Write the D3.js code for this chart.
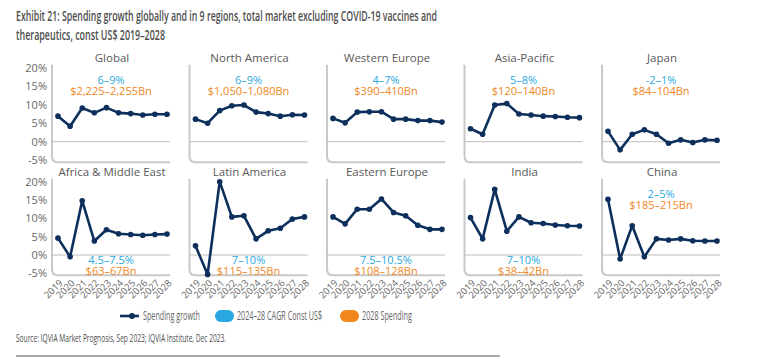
<!DOCTYPE html>
<html>
<head>
<meta charset="utf-8">
<script src="https://cdn.jsdelivr.net/npm/d3@7"></script>
<style>
  body { margin: 0; background: #fff; }
  text { font-family: "Open Sans", sans-serif; }
</style>
</head>
<body>
<div class="chart"></div>
<script>
// annees et regions
var years = [2019, 2020, 2021, 2022, 2023, 2024, 2025, 2026, 2027, 2028];
var regions = ["Global", "North America", "Western Europe", "Asia-Pacific", "Japan",
  "Africa & Middle East", "Latin America", "Eastern Europe", "India", "China"];

// croissance des depenses (%)
var growthGlobal = [6.9, 4.2, 9.1, 7.8, 9.2, 7.8, 7.6, 7.2, 7.4, 7.4];
var growthNorthAmerica = [6.1, 5.0, 8.4, 9.7, 9.9, 8.0, 7.6, 6.9, 7.3, 7.2];
var growthWesternEurope = [6.3, 5.1, 8.0, 8.1, 8.1, 6.1, 6.1, 5.7, 5.7, 5.3];
var growthAsiaPacific = [3.5, 2.0, 9.9, 10.3, 7.5, 7.2, 6.9, 6.8, 6.6, 6.5];
var growthJapan = [2.8, -2.2, 2.0, 3.2, 2.0, -0.4, 0.5, -0.2, 0.5, 0.4];
var growthAfricaME = [4.6, -0.5, 14.8, 3.8, 6.9, 5.8, 5.6, 5.4, 5.6, 5.7];
var growthLatinAmerica = [2.5, -5.3, 20.0, 10.4, 10.7, 4.4, 6.6, 7.3, 9.8, 10.4];
var growthEasternEurope = [10.4, 8.5, 12.5, 12.5, 15.3, 11.6, 10.7, 8.1, 7.0, 7.0];
var growthIndia = [10.2, 4.4, 17.9, 6.5, 10.4, 8.8, 8.6, 8.2, 8.0, 7.9];
var growthChina = [15.2, -1.1, 8.0, -0.5, 4.4, 4.1, 4.4, 3.9, 3.8, 3.8];

var growth = [growthGlobal, growthNorthAmerica, growthWesternEurope, growthAsiaPacific, growthJapan,
  growthAfricaME, growthLatinAmerica, growthEasternEurope, growthIndia, growthChina];

var cagrLabels = ["6–9%", "6–9%", "4–7%", "5–8%", "-2–1%",
  "4.5–7.5%", "7–10%", "7.5–10.5%", "7–10%", "2–5%"];
var spendLabels = ["$2,225–2,255Bn", "$1,050–1,080Bn", "$390–410Bn", "$120–140Bn", "$84–104Bn",
  "$63–67Bn", "$115–135Bn", "$108–128Bn", "$38–42Bn", "$185–215Bn"];

var yTicks = [20, 15, 10, 5, 0, -5];
var legendLabels = ["Spending growth", "2024–28 CAGR Const US$", "2028 Spending"];

var width = 770, height = 361;
var navy = "#0c2f5c", blue = "#29a8e0", orange = "#f0861c", frameGray = "#c9c9c9";

var svg = d3.select(".chart").append("svg")
  .attr("width", width)
  .attr("height", height);

// texte etroit : la police condensee n'existe pas, on serre avec textLength
function narrow(sel, len) {
  return sel.attr("textLength", len).attr("lengthAdjust", "spacingAndGlyphs");
}

// titre
narrow(svg.append("text")
  .attr("x", 16).attr("y", 21)
  .attr("font-size", 14).attr("font-weight", 600).attr("fill", "#4d4d4d")
  .text("Exhibit 21: Spending growth globally and in 9 regions, total market excluding COVID-19 vaccines and"), 421);
narrow(svg.append("text")
  .attr("x", 16).attr("y", 40)
  .attr("font-size", 14).attr("font-weight", 600).attr("fill", "#4d4d4d")
  .text("therapeutics, const US$ 2019–2028"), 149);

// deux rangees : [y de 20%, y de 0%]
var rows = [[67.7, 141.7], [181.7, 255]];

regions.forEach(function(name, i) {
  var row = Math.floor(i / 5), col = i % 5;
  var x0 = 52 + col * 137.5;
  var y = d3.scaleLinear().domain([0, 20]).range([rows[row][1], rows[row][0]]);
  var x = d3.scalePoint().domain(years).range([x0 + 6, x0 + 115]);
  var g = svg.append("g");

  var top = y(20) - 3, bottom = y(-5) + 2, right = x0 + 118, r = 6;

  // cadre gris arrondi
  g.append("path")
    .attr("d", "M" + x0 + "," + top + "V" + (bottom - r) +
      "Q" + x0 + "," + bottom + " " + (x0 + r) + "," + bottom + "H" + right)
    .attr("fill", "none").attr("stroke", frameGray).attr("stroke-width", 2);

  // ligne du zero
  g.append("line")
    .attr("x1", x0).attr("x2", right)
    .attr("y1", y(0)).attr("y2", y(0))
    .attr("stroke", "#bdbdbd").attr("stroke-width", 1);

  // titre du panneau
  g.append("text")
    .attr("x", x0 + 60).attr("y", top - 3)
    .attr("text-anchor", "middle").attr("font-size", 11.5).attr("fill", "#595959")
    .text(name);

  // axe y seulement pour la premiere colonne
  if (col == 0) {
    g.selectAll(".ytick").data(yTicks).enter().append("text")
      .attr("x", x0 - 5).attr("y", function(d) { return y(d); })
      .attr("dy", "0.35em").attr("text-anchor", "end")
      .attr("font-size", 11).attr("fill", "#666")
      .text(function(d) { return d + "%"; });
  }

  // annees seulement pour la rangee du bas
  if (row == 1) {
    g.selectAll(".year").data(years).enter().append("text")
      .attr("transform", function(d) { return "translate(" + (x(d) + 3) + "," + (bottom + 6) + ") rotate(-45)"; })
      .attr("text-anchor", "end").attr("dy", "0.35em")
      .attr("font-size", 9.5).attr("fill", "#666")
      .text(function(d) { return d; });
  }

  // courbe
  var line = d3.line()
    .x(function(d, k) { return x(years[k]); })
    .y(function(d) { return y(d); });
  g.append("path")
    .datum(growth[i])
    .attr("d", line)
    .attr("fill", "none").attr("stroke", navy).attr("stroke-width", 2.6)
    .attr("stroke-linejoin", "round");
  g.selectAll(".pt").data(growth[i]).enter().append("circle")
    .attr("cx", function(d, k) { return x(years[k]); })
    .attr("cy", function(d) { return y(d); })
    .attr("r", 2.8).attr("fill", navy);

  // annotations
  var below = row == 1 && col < 4;
  var ly = below ? y(0) + 5 : top + 15;
  g.append("text")
    .attr("x", x0 + 59).attr("y", ly).attr("dy", "0.35em")
    .attr("text-anchor", "middle").attr("font-size", 11).attr("fill", blue)
    .text(cagrLabels[i]);
  g.append("text")
    .attr("x", x0 + 59).attr("y", ly + 11).attr("dy", "0.35em")
    .attr("text-anchor", "middle").attr("font-size", 11).attr("fill", orange)
    .text(spendLabels[i]);
});

// legende
var ly = 316;
var leg = svg.append("g");
leg.append("line").attr("x1", 120).attr("x2", 139).attr("y1", ly).attr("y2", ly)
  .attr("stroke", navy).attr("stroke-width", 2.6);
leg.append("circle").attr("cx", 132).attr("cy", ly).attr("r", 3).attr("fill", navy);
narrow(leg.append("text").attr("x", 143).attr("y", ly).attr("dy", "0.35em")
  .attr("font-size", 12).attr("fill", "#666").text(legendLabels[0]), 57);
leg.append("rect").attr("x", 215).attr("y", ly - 6).attr("width", 19).attr("height", 12)
  .attr("rx", 6).attr("fill", blue);
narrow(leg.append("text").attr("x", 237).attr("y", ly).attr("dy", "0.35em")
  .attr("font-size", 12).attr("fill", "#666").text(legendLabels[1]), 85);
leg.append("rect").attr("x", 340).attr("y", ly - 6).attr("width", 19).attr("height", 12)
  .attr("rx", 6).attr("fill", orange);
narrow(leg.append("text").attr("x", 362).attr("y", ly).attr("dy", "0.35em")
  .attr("font-size", 12).attr("fill", "#666").text(legendLabels[2]), 50);

// source
narrow(svg.append("text")
  .attr("x", 16).attr("y", 338).attr("dy", "0.35em")
  .attr("font-size", 10.5).attr("fill", "#4d4d4d")
  .text("Source: IQVIA Market Prognosis, Sep 2023; IQVIA Institute, Dec 2023."), 210);

svg.append("line").attr("x1", 16).attr("x2", 500).attr("y1", 356).attr("y2", 356)
  .attr("stroke", "#aaa").attr("stroke-width", 2);
</script>
</body>
</html>
